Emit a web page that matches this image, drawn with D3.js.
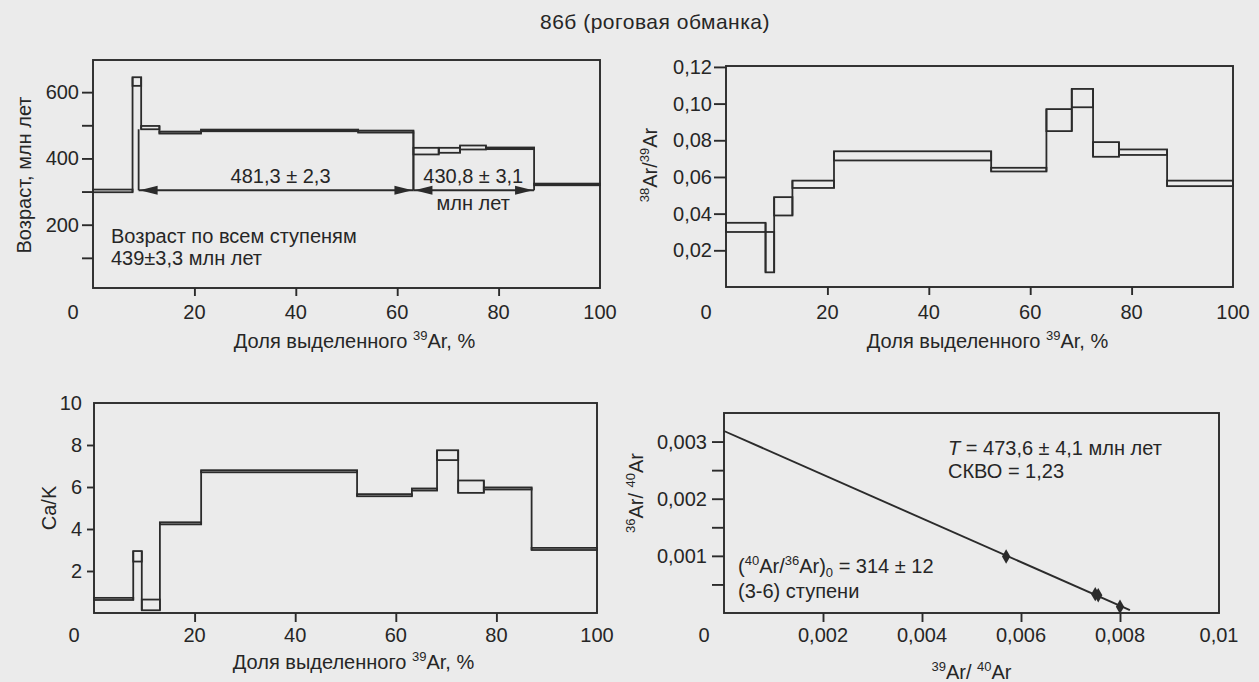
<!DOCTYPE html>
<html>
<head>
<meta charset="utf-8">
<script src="https://cdnjs.cloudflare.com/ajax/libs/d3/7.8.5/d3.min.js"></script>
<style>
  body { margin: 0; background: #ebebeb; }
  svg { display: block; }
  text { font-family: "Liberation Sans", Arial, sans-serif; fill: #262626; }
</style>
</head>
<body>
<svg id="chart" width="1259" height="682"></svg>
<script>
// step edges, % of released 39Ar (same heating steps in all spectra)
var stepEdges = [0, 7.8, 9.5, 13.1, 21.3, 52.3, 63.2, 68.2, 72.4, 77.5, 87.0, 100];

// age spectrum, Ma (lower / upper error bound of each step)
var ageLo = [298, 619, 488, 475, 482, 478, 412, 417, 427, 428, 319];
var ageHi = [306, 645, 498, 481, 487, 484, 432, 432, 439, 433, 324];

// 38Ar/39Ar
var ar38Lo = [0.030, 0.008, 0.039, 0.054, 0.069, 0.063, 0.085, 0.098, 0.071, 0.072, 0.055];
var ar38Hi = [0.035, 0.030, 0.049, 0.058, 0.074, 0.065, 0.097, 0.108, 0.079, 0.075, 0.058];

// Ca/K
var caKLo = [0.62, 2.45, 0.13, 4.22, 6.70, 5.56, 5.83, 7.28, 5.72, 5.88, 3.00];
var caKHi = [0.72, 2.95, 0.64, 4.32, 6.80, 5.66, 5.93, 7.75, 6.31, 5.98, 3.10];

// plateau brackets on the age spectrum
var plateauStart = [9.0, 63.2];
var plateauEnd = [63.2, 87.0];
var plateauStartTop = [488, 412];
var plateauEndTop = [478, 319];
var plateauAge = 304;
var plateauText = ["481,3 \u00b1 2,3", "430,8 \u00b1 3,1"];
var plateauTextAt = [37, 75];

// isochron 36Ar/40Ar vs 39Ar/40Ar, steps 3-6
var isoX = [0.0057, 0.0075, 0.00756, 0.0080];
var isoY = [0.00099, 0.00033, 0.00031, 0.00011];
var isoLineX = [0, 0.0082];
var isoLineY = [0.003185, 0.00005];

// ticks
var pctTicks = [20, 40, 60, 80];
var pctLabels = [0, 20, 40, 60, 80, 100];
var ageTicks = [100, 200, 300, 400, 500, 600];
var ageLabels = [200, 400, 600];
var ar38Ticks = [0.02, 0.04, 0.06, 0.08, 0.10, 0.12];
var ar38Labels = ["0,02", "0,04", "0,06", "0,08", "0,10", "0,12"];
var caKTicks = [2, 4, 6, 8];
var caKLabels = [2, 4, 6, 8, 10];
var isoYTicks = [0.0005, 0.001, 0.0015, 0.002, 0.0025, 0.003];
var isoYLabelVals = [0.001, 0.002, 0.003];
var isoYLabels = ["0,001", "0,002", "0,003"];
var isoXTicks = [0.002, 0.004, 0.006, 0.008];
var isoXLabelVals = [0, 0.002, 0.004, 0.006, 0.008, 0.01];
var isoXLabels = ["0", "0,002", "0,004", "0,006", "0,008", "0,01"];

var ink = "#2b2b2b";
var svg = d3.select("#chart");

// text with super/subscripts: parts = [[text, "sup"|"sub"|undefined], ...]
function rich(sel, parts) {
  var shift = 0;
  parts.forEach(function(p) {
    var s = p[1] == "sup" ? -8 : p[1] == "sub" ? 4 : 0;
    var ts = sel.append("tspan").attr("dy", s - shift).text(p[0]);
    if (s) ts.attr("font-size", 13);
    shift = s;
  });
  return sel;
}

function panel(box, xDomain, yDomain) {
  var g = svg.append("g");
  var x = d3.scaleLinear().domain(xDomain).range([box.x0, box.x1]);
  var y = d3.scaleLinear().domain(yDomain).range([box.y1, box.y0]);
  return { g: g, x: x, y: y, box: box };
}

function frame(p) {
  p.g.append("rect")
    .attr("x", p.box.x0).attr("y", p.box.y0)
    .attr("width", p.box.x1 - p.box.x0).attr("height", p.box.y1 - p.box.y0)
    .attr("fill", "none").attr("stroke", ink).attr("stroke-width", 1.9);
}

function ticks(p, xt, yt, xlen, ylen) {
  var ax = p.g.append("g").attr("transform", "translate(0," + p.box.y1 + ")")
    .call(d3.axisBottom(p.x).tickValues(xt).tickSize(xlen).tickFormat(""));
  var ay = p.g.append("g").attr("transform", "translate(" + p.box.x0 + ",0)")
    .call(d3.axisLeft(p.y).tickValues(yt).tickSize(ylen).tickFormat(""));
  [ax, ay].forEach(function(a) {
    a.select(".domain").remove();
    a.selectAll("line").attr("stroke", ink).attr("stroke-width", 1.9);
  });
}

function xLabels(p, vals, texts, baseline) {
  p.g.selectAll(null).data(vals).join("text")
    .attr("x", function(d, i) { return p.x(d) + (i == 0 ? -20 : 0); })
    .attr("y", baseline)
    .attr("text-anchor", "middle").attr("font-size", 20)
    .text(function(d, i) { return texts[i]; });
}

function yLabels(p, vals, texts, gap) {
  p.g.selectAll(null).data(vals).join("text")
    .attr("x", p.box.x0 - gap)
    .attr("y", function(d) { return p.y(d) + 7; })
    .attr("text-anchor", "end").attr("font-size", 20)
    .text(function(d, i) { return texts[i]; });
}

function steps(p, lo, hi) {
  var n = lo.length;
  p.g.selectAll(null).data(d3.range(n)).join("rect")
    .attr("x", function(i) { return p.x(stepEdges[i]); })
    .attr("width", function(i) { return p.x(stepEdges[i + 1]) - p.x(stepEdges[i]); })
    .attr("y", function(i) { return p.y(hi[i]); })
    .attr("height", function(i) { return p.y(lo[i]) - p.y(hi[i]); })
    .attr("fill", "none").attr("stroke", ink).attr("stroke-width", 1.8);
  p.g.selectAll(null).data(d3.range(1, n)).join("line")
    .attr("x1", function(i) { return p.x(stepEdges[i]); })
    .attr("x2", function(i) { return p.x(stepEdges[i]); })
    .attr("y1", function(i) { return p.y(Math.min(lo[i - 1], lo[i])); })
    .attr("y2", function(i) { return p.y(Math.max(hi[i - 1], hi[i])); })
    .attr("stroke", ink).attr("stroke-width", 1.8);
}

function yTitle(p, cx, cy, parts) {
  rich(p.g.append("text")
    .attr("transform", "translate(" + cx + "," + cy + ") rotate(-90)")
    .attr("text-anchor", "middle").attr("font-size", 20), parts);
}

var pctTitle = [["Доля выделенного "], ["39", "sup"], ["Ar, %"]];

// title
svg.append("text").attr("x", 655).attr("y", 29).attr("text-anchor", "middle")
  .attr("font-size", 21).attr("letter-spacing", 0.5).text("86б (роговая обманка)");

// ---------- age spectrum ----------
var p1 = panel({ x0: 93, x1: 600, y0: 60, y1: 288 }, [0, 100], [9, 697]);
steps(p1, ageLo, ageHi);
frame(p1);
ticks(p1, pctTicks, ageTicks, 8, 11);
xLabels(p1, pctLabels, pctLabels, 319);
yLabels(p1, ageLabels, ageLabels, 14);
yTitle(p1, 31, 175, [["Возраст, млн лет"]]);
rich(p1.g.append("text").attr("x", p1.x(50) + 8).attr("y", 348)
  .attr("text-anchor", "middle").attr("font-size", 20), pctTitle);

var arrowY = p1.y(plateauAge);
function arrowHead(g, xTip, dir) {
  g.append("path")
    .attr("d", "M" + xTip + "," + arrowY + "l" + (-dir * 18) + ",-4.5v9z")
    .attr("fill", ink);
}
plateauStart.forEach(function(s, i) {
  var xa = p1.x(s), xb = p1.x(plateauEnd[i]);
  p1.g.append("line").attr("x1", xa).attr("x2", xb).attr("y1", arrowY).attr("y2", arrowY)
    .attr("stroke", ink).attr("stroke-width", 1.8);
  p1.g.append("line").attr("x1", xa).attr("x2", xa)
    .attr("y1", arrowY).attr("y2", p1.y(plateauStartTop[i]))
    .attr("stroke", ink).attr("stroke-width", 1.8);
  p1.g.append("line").attr("x1", xb).attr("x2", xb)
    .attr("y1", arrowY).attr("y2", p1.y(plateauEndTop[i]))
    .attr("stroke", ink).attr("stroke-width", 1.8);
  arrowHead(p1.g, xa + 1, -1);
  arrowHead(p1.g, xb - 1, 1);
  p1.g.append("text").attr("x", p1.x(plateauTextAt[i])).attr("y", arrowY - 7.5)
    .attr("text-anchor", "middle").attr("font-size", 20).text(plateauText[i]);
});
p1.g.append("text").attr("x", p1.x(plateauTextAt[1])).attr("y", 210)
  .attr("text-anchor", "middle").attr("font-size", 20).text("млн лет");
p1.g.append("text").attr("x", 111).attr("y", 243).attr("font-size", 20)
  .text("Возраст по всем ступеням");
p1.g.append("text").attr("x", 111).attr("y", 265).attr("font-size", 20)
  .text("439\u00b13,3 млн лет");

// ---------- 38Ar/39Ar ----------
var p2 = panel({ x0: 726, x1: 1233, y0: 66, y1: 287 }, [0, 100], [0, 0.1205]);
steps(p2, ar38Lo, ar38Hi);
frame(p2);
ticks(p2, pctTicks, ar38Ticks, 8, 12);
xLabels(p2, pctLabels, pctLabels, 319);
yLabels(p2, ar38Ticks, ar38Labels, 14);
yTitle(p2, 657, 165, [["38", "sup"], ["Ar/"], ["39", "sup"], ["Ar"]]);
rich(p2.g.append("text").attr("x", p2.x(50) + 8).attr("y", 348)
  .attr("text-anchor", "middle").attr("font-size", 20), pctTitle);

// ---------- Ca/K ----------
var p3 = panel({ x0: 94, x1: 597, y0: 403, y1: 613 }, [0, 100], [0, 10]);
steps(p3, caKLo, caKHi);
frame(p3);
ticks(p3, pctTicks, caKTicks, 9, 7);
xLabels(p3, pctLabels, pctLabels, 642);
yLabels(p3, caKLabels, caKLabels, 12);
yTitle(p3, 56, 508, [["Ca/K"]]);
rich(p3.g.append("text").attr("x", p3.x(50) + 8).attr("y", 669)
  .attr("text-anchor", "middle").attr("font-size", 20), pctTitle);

// ---------- isochron ----------
var p4 = panel({ x0: 724, x1: 1219, y0: 413, y1: 613 }, [0, 0.01], [0, 0.0035]);
frame(p4);
ticks(p4, isoXTicks, isoYTicks, 9, 12);
xLabels(p4, isoXLabelVals, isoXLabels, 642);
yLabels(p4, isoYLabelVals, isoYLabels, 17);
yTitle(p4, 643, 493, [["36", "sup"], ["Ar/ "], ["40", "sup"], ["Ar"]]);
rich(p4.g.append("text").attr("x", p4.x(0.005)).attr("y", 679)
  .attr("text-anchor", "middle").attr("font-size", 20),
  [["39", "sup"], ["Ar/ "], ["40", "sup"], ["Ar"]]);

p4.g.append("path")
  .datum(d3.zip(isoLineX, isoLineY))
  .attr("d", d3.line().x(function(d) { return p4.x(d[0]); }).y(function(d) { return p4.y(d[1]); }))
  .attr("fill", "none").attr("stroke", ink).attr("stroke-width", 1.9);

p4.g.selectAll(null).data(d3.zip(isoX, isoY)).join("path")
  .attr("transform", function(d) { return "translate(" + p4.x(d[0]) + "," + p4.y(d[1]) + ")"; })
  .attr("d", d3.symbol(d3.symbolDiamond, 60))
  .attr("fill", ink);

var t1 = p4.g.append("text").attr("x", 948).attr("y", 455).attr("font-size", 20);
t1.append("tspan").attr("font-style", "italic").text("T");
t1.append("tspan").text(" = 473,6 \u00b1 4,1 млн лет");
p4.g.append("text").attr("x", 948).attr("y", 478).attr("font-size", 20).text("СКВО = 1,23");
rich(p4.g.append("text").attr("x", 738).attr("y", 573).attr("font-size", 20),
  [["("], ["40", "sup"], ["Ar/"], ["36", "sup"], ["Ar)"], ["0", "sub"], [" = 314 \u00b1 12"]]);
p4.g.append("text").attr("x", 738).attr("y", 598).attr("font-size", 20).text("(3-6) ступени");
</script>
</body>
</html>
